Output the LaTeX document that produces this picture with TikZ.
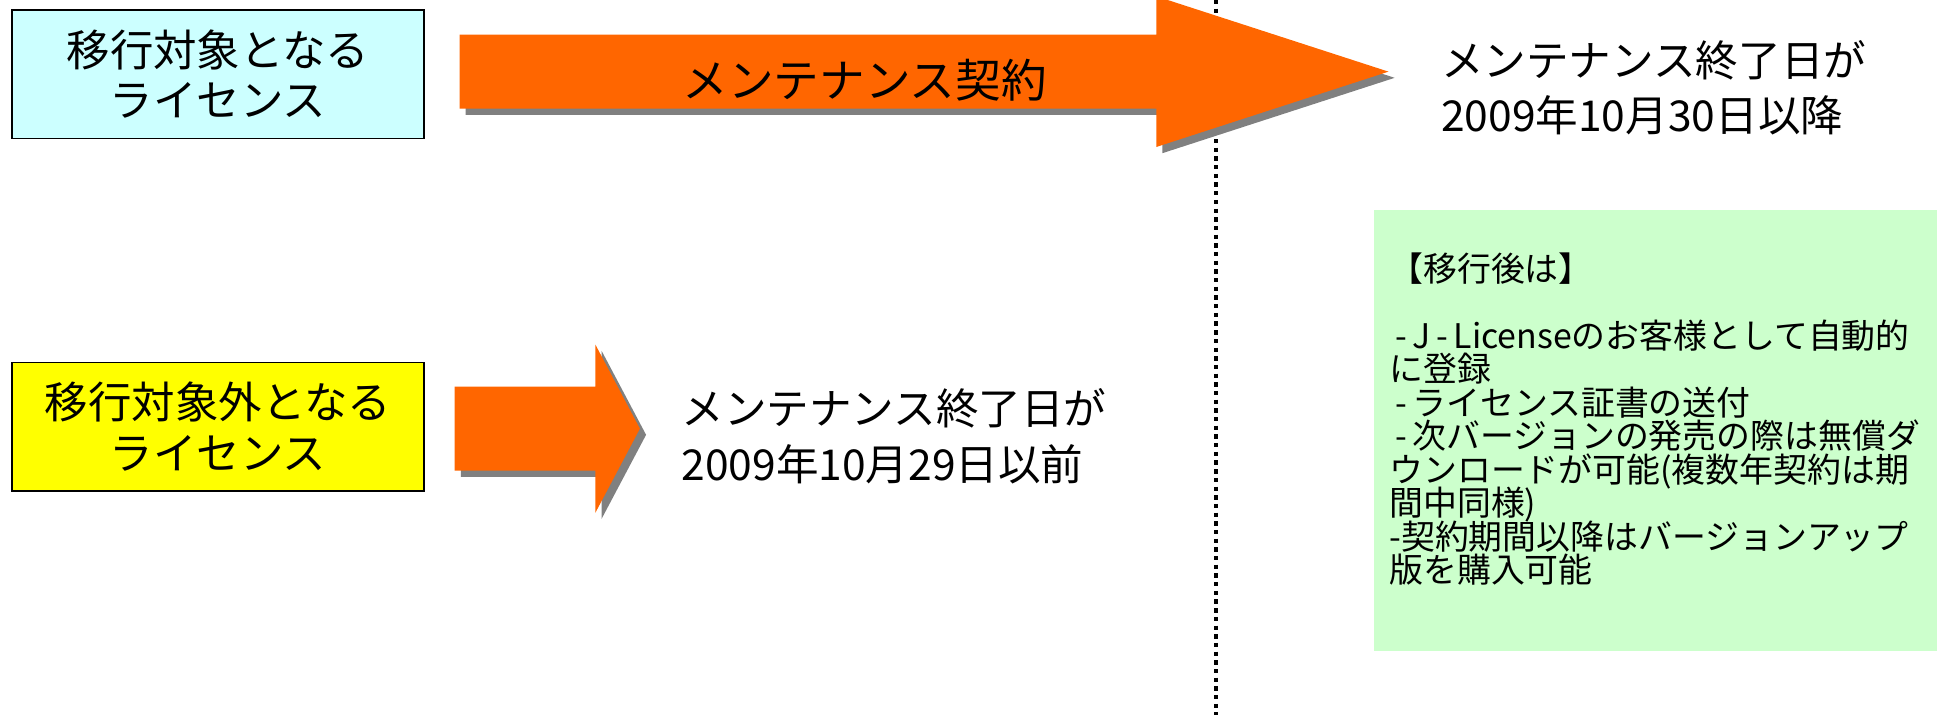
\documentclass[tikz,border=0pt]{standalone}
\usepackage{fontspec}
\setmainfont{Noto Sans CJK JP}
\definecolor{licblue}{HTML}{CCFFFF}
\definecolor{licyellow}{HTML}{FFFF00}
\definecolor{arroworange}{HTML}{FF6600}
\definecolor{shadowgray}{HTML}{808080}
\definecolor{aftergreen}{HTML}{CCFFCC}
\def\fatarrow(#1:#2:#3:#4:#5:#6){\foreach \off/\col in {5/shadowgray,0/arroworange}{\fill[\col, shift={(\off,\off)}] (#1,#4-#5) -- (#2,#4-#5) -- (#2,#4-#6) -- (#3,#4) -- (#2,#4+#6) -- (#2,#4+#5) -- (#1,#4+#5) -- cycle;}}
\def\tightlines{\lineskiplimit=-10pt\relax}

\begin{document}
\begin{tikzpicture}[x=0.01cm, y=-0.01cm,
	licbox/.style={draw=black, line width=0.4pt, minimum width=3.33cm, minimum height=1.04cm, align=center, inner sep=0pt, font=\fontsize{10pt}{11.7pt}\selectfont},
	datetext/.style={anchor=west, align=left, inner sep=0pt, font=\fontsize{9.8pt}{12.8pt}\selectfont}]
			%%%%% START %%%%%
			\useasboundingbox (0,0) rectangle (1568,579);
			
			\draw[line width=0.95pt, dash pattern=on 1pt off 1pt] (984,0) -- (984,579);
			
			\node[licbox, fill=licblue] (target) at (176.5,60) {移行対象となる\\ライセンス};
			\fatarrow(372:936:1124:58:30:61)
			\node[inner sep=0pt, font=\fontsize{10.5pt}{12pt}\selectfont] (contract) at (700,65) {メンテナンス契約};
			\node[datetext] (endafter) at (1166,71) {メンテナンス終了日が\\2009年10月30日以降};
			
			\node[licbox, fill=licyellow] (nontarget) at (176.5,345.5) {移行対象外となる\\ライセンス};
			\fatarrow(368:482:518:347:34:68)
			\node[datetext] (endbefore) at (551,353) {メンテナンス終了日が\\2009年10月29日以前};
			
			\fill[aftergreen] (1112,170) rectangle (1568,527);
			\node[anchor=north west, align=left, inner sep=0pt, font=\fontsize{7.8pt}{7.7pt}\selectfont\tightlines] (after) at (1124,204) {【移行後は】\\[7.7pt]
				\,-\,J\,-\,Licenseのお客様として自動的\\
				に登録\\
				\,-\,ライセンス証書の送付\\
				\,-\,次バージョンの発売の際は無償ダ\\
				ウンロードが可能(複数年契約は期\\
				間中同様)\\
				-契約期間以降はバージョンアップ\\
				版を購入可能};
			%%%%% END %%%%%
\end{tikzpicture}
\end{document}
